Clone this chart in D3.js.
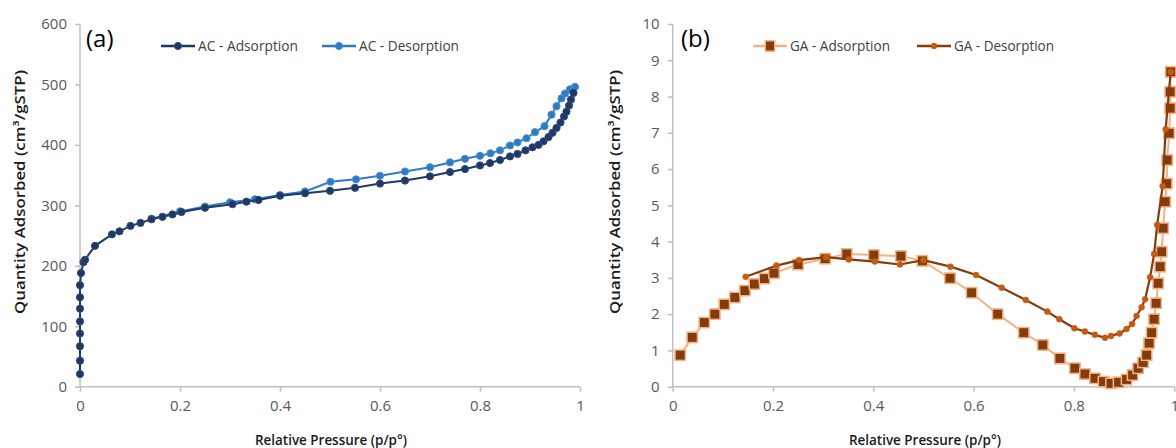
<!DOCTYPE html>
<html>
<head>
<meta charset="utf-8">
<script src="https://cdn.jsdelivr.net/npm/d3@7"></script>
<style>
  html, body { margin: 0; padding: 0; background: #fff; }
  svg { display: block; }
  text { font-family: "Open Sans", "Noto Sans", sans-serif; }
</style>
</head>
<body>
<svg id="chart" width="1176" height="448"></svg>
<script>
// ---------- DATA ----------
const acAdsX = [0,0,0,0,0,0,0,0,0.002,0.007,0.01,0.03,0.064,0.079,0.101,0.121,0.143,0.165,0.185,0.203,0.25,0.305,0.333,0.357,0.4,0.45,0.5,0.55,0.6,0.65,0.7,0.74,0.77,0.8,0.82,0.84,0.86,0.875,0.891,0.905,0.917,0.927,0.937,0.945,0.953,0.961,0.968,0.973,0.978,0.982,0.987];
const acAdsY = [21,43,67,88,108,129,148,168,188,206,210,233,252,257,266,271,277,281,285,289,296,302,306,309,316,320,324,329,336,341,348,355,360,366,370,375,381,385,391,396,400,406,413,420,428,437,447,455,465,475,486];
const acDesX = [0.99,0.98,0.97,0.963,0.953,0.943,0.929,0.91,0.893,0.875,0.86,0.84,0.821,0.80,0.77,0.74,0.70,0.65,0.60,0.552,0.501,0.45,0.40,0.35,0.30,0.25,0.2,0.143];
const acDesY = [496,492,485,477,464,450,431,421,411,404,399,391,386,382,377,371,363,356,349,343,339,323,317,310,305,298,290,278];

const gaAdsX = [0.015,0.039,0.063,0.084,0.103,0.124,0.144,0.163,0.183,0.202,0.25,0.304,0.347,0.401,0.455,0.498,0.553,0.596,0.648,0.70,0.738,0.772,0.802,0.822,0.842,0.859,0.874,0.889,0.905,0.917,0.928,0.938,0.945,0.950,0.955,0.960,0.964,0.968,0.972,0.975,0.978,0.982,0.985,0.986,0.990,0.992,0.992,0.993];
const gaAdsY = [0.87,1.36,1.77,2.0,2.27,2.46,2.65,2.83,2.98,3.13,3.37,3.53,3.66,3.63,3.6,3.47,2.99,2.59,2.0,1.49,1.15,0.78,0.51,0.35,0.23,0.14,0.09,0.12,0.20,0.32,0.51,0.67,0.87,1.20,1.49,1.86,2.3,2.85,3.31,3.72,4.37,5.1,5.6,6.25,6.99,7.68,8.13,8.68];
const gaDesX = [0.993,0.983,0.977,0.966,0.96,0.952,0.942,0.935,0.925,0.916,0.905,0.891,0.874,0.862,0.842,0.822,0.801,0.771,0.747,0.704,0.656,0.605,0.554,0.50,0.453,0.403,0.351,0.306,0.252,0.207,0.1455];
const gaDesY = [8.68,7.1,5.53,4.46,3.66,3.02,2.41,2.19,1.95,1.73,1.59,1.47,1.40,1.35,1.43,1.52,1.61,1.86,2.07,2.39,2.73,3.08,3.31,3.49,3.37,3.45,3.51,3.57,3.49,3.34,3.03];

const xTicks = [0, 0.2, 0.4, 0.6, 0.8, 1];
const yTicksA = [0, 100, 200, 300, 400, 500, 600];
const yTicksB = [0,1,2,3,4,5,6,7,8,9,10];

const xTitle = "Relative Pressure (p/p°)";
const yTitle = "Quantity Adsorbed (cm³/gSTP)";

// ---------- DRAW ----------
const svg = d3.select("#chart");
const axisCol = "#BFBFBF", tickTxt = "#595959";

function panel(opts) {
  const x = d3.scaleLinear().domain([0, 1]).range(opts.xr);
  const y = d3.scaleLinear().domain(opts.yd).range([386.7, 24]);
  const g = svg.append("g");

  const xa = g.append("g").attr("transform", `translate(0,${y(0)})`)
    .call(d3.axisBottom(x).tickValues(xTicks).tickSize(5).tickPadding(9)
      .tickFormat(d => d3.format("~g")(d)));
  const ya = g.append("g").attr("transform", `translate(${x(0)},0)`)
    .call(d3.axisLeft(y).tickValues(opts.yTicks).tickSize(5).tickPadding(8)
      .tickFormat(d3.format("d")));
  [xa, ya].forEach(a => {
    a.select(".domain").attr("stroke", axisCol).attr("stroke-width", 1.5);
    a.selectAll(".tick line").attr("stroke", axisCol).attr("stroke-width", 1.5);
    a.selectAll(".tick text").attr("fill", tickTxt).style("font-size", "15px")
      .style("font-family", "'Open Sans', sans-serif");
  });
  xa.select(".domain").attr("d", `M${x(0)},0H${x(1)}`);
  ya.select(".domain").attr("d", `M0,${y(opts.yd[0])}V${y(opts.yd[1])}`);

  g.append("text").attr("x", opts.xTitleX).attr("y", 445)
    .attr("text-anchor", "middle").attr("fill", "#1a1a1a")
    .style("font-size", "14px").style("font-weight", "600")
    .attr("textLength", 152).attr("lengthAdjust", "spacingAndGlyphs")
    .text(xTitle);
  g.append("text")
    .attr("transform", `translate(${opts.yTitleX},192) rotate(-90)`)
    .attr("text-anchor", "middle").attr("fill", "#1a1a1a")
    .style("font-size", "14px").style("font-weight", "600")
    .attr("textLength", 244).attr("lengthAdjust", "spacingAndGlyphs")
    .text(yTitle);

  g.append("text").attr("x", opts.labelX).attr("y", 47)
    .attr("fill", "#000").style("font-size", "24px").text(opts.label);

  return { g, x, y };
}

function series(p, xs, ys, st) {
  const pts = xs.map((d, i) => [d, ys[i]]);
  const line = d3.line().x(d => p.x(d[0])).y(d => p.y(d[1]));
  p.g.append("path").datum(pts).attr("d", line).attr("fill", "none")
    .attr("stroke", st.line).attr("stroke-width", st.lw);
  if (st.shape === "circle") {
    p.g.selectAll(null).data(pts).enter().append("circle")
      .attr("cx", d => p.x(d[0])).attr("cy", d => p.y(d[1])).attr("r", st.r)
      .attr("fill", st.fill).attr("stroke", st.stroke).attr("stroke-width", st.sw);
  } else {
    p.g.selectAll(null).data(pts).enter().append("rect")
      .attr("x", d => p.x(d[0]) - st.r).attr("y", d => p.y(d[1]) - st.r)
      .attr("width", st.r * 2).attr("height", st.r * 2)
      .attr("fill", st.fill).attr("stroke", st.stroke).attr("stroke-width", st.sw);
  }
}

function legendItem(g, x0, y0, st, label) {
  g.append("line").attr("x1", x0).attr("x2", x0 + 34).attr("y1", y0).attr("y2", y0)
    .attr("stroke", st.line).attr("stroke-width", st.lw + 0.5);
  const cx = x0 + 17;
  if (st.shape === "circle") {
    g.append("circle").attr("cx", cx).attr("cy", y0).attr("r", st.r)
      .attr("fill", st.fill).attr("stroke", st.stroke).attr("stroke-width", st.sw);
  } else {
    g.append("rect").attr("x", cx - st.r + 0.5).attr("y", y0 - st.r).attr("width", st.r * 2 - 1)
      .attr("height", st.r * 2).attr("fill", st.fill).attr("stroke", st.stroke).attr("stroke-width", st.sw);
  }
  g.append("text").attr("x", x0 + 37).attr("y", y0 + 5).attr("fill", "#404040")
    .style("font-size", "14px").attr("textLength", 100).attr("lengthAdjust", "spacingAndGlyphs")
    .text(label);
}

const stAcAds = { line: "#203864", lw: 2, shape: "circle", r: 3.6, fill: "#203864", stroke: "#2F4A80", sw: 1 };
const stAcDes = { line: "#2E7BC4", lw: 2, shape: "circle", r: 3.6, fill: "#2E7BC4", stroke: "#4A90D0", sw: 1 };
const stGaAds = { line: "#F4B183", lw: 2, shape: "rect", r: 5.2, fill: "#843C0C", stroke: "#F4B183", sw: 1.5 };
const stGaDes = { line: "#843C0C", lw: 2.2, shape: "circle", r: 3, fill: "#C55A11", stroke: "#C55A11", sw: 0.5 };

const pA = panel({ xr: [80, 580], yd: [0, 600], yTicks: yTicksA, xTitleX: 331, yTitleX: 25, label: "(a)", labelX: 86 });
series(pA, acDesX, acDesY, stAcDes);
series(pA, acAdsX, acAdsY, stAcAds);
legendItem(pA.g, 161, 46, stAcAds, "AC - Adsorption");
legendItem(pA.g, 322, 46, stAcDes, "AC - Desorption");

const pB = panel({ xr: [672.7, 1174.2], yd: [0, 10], yTicks: yTicksB, xTitleX: 925, yTitleX: 620, label: "(b)", labelX: 681 });
series(pB, gaAdsX, gaAdsY, stGaAds);
series(pB, gaDesX, gaDesY, stGaDes);
legendItem(pB.g, 753, 46, stGaAds, "GA - Adsorption");
legendItem(pB.g, 917, 46, stGaDes, "GA - Desorption");
</script>
</body>
</html>
